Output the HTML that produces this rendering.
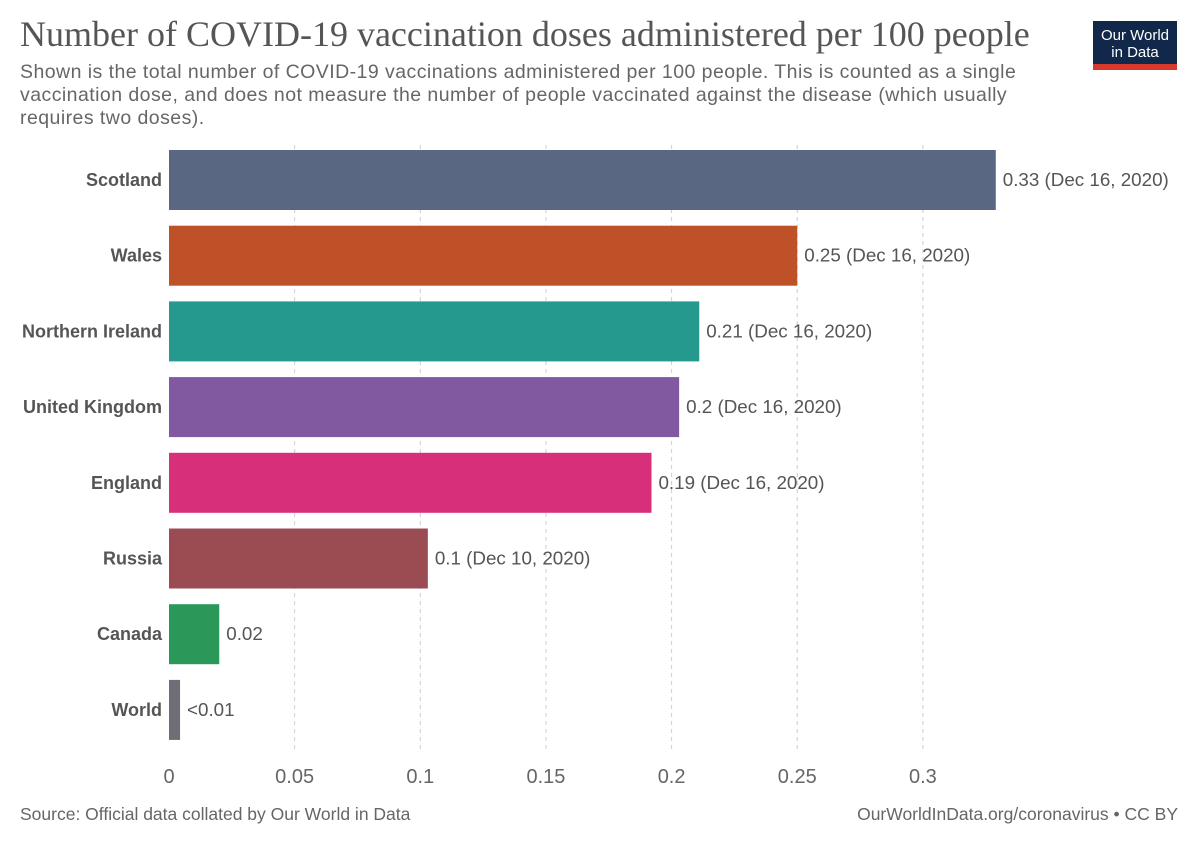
<!DOCTYPE html>
<html><head><meta charset="utf-8"><style>
body{margin:0;width:1200px;height:847px;background:#fff;font-family:"Liberation Sans",sans-serif;overflow:hidden;position:relative}
.t{position:absolute;white-space:nowrap}
</style></head><body>
<div class="t" style="left:20px;top:13px;font-family:'Liberation Serif',serif;font-size:36px;color:#555">Number of COVID-19 vaccination doses administered per 100 people</div>
<div class="t" style="left:20px;top:61px;font-size:19.5px;line-height:23px;color:#666;letter-spacing:0.45px">Shown is the total number of COVID-19 vaccinations administered per 100 people. This is counted as a single<br>vaccination dose, and does not measure the number of people vaccinated against the disease (which usually<br>requires two doses).</div>
<div style="position:absolute;left:1093px;top:21px;width:84px;height:49px;background:#12284b;color:#fff;font-size:15px;line-height:17px;text-align:center;box-sizing:border-box;padding-top:6px">Our World<br>in Data<div style="position:absolute;left:0;bottom:0;width:84px;height:6px;background:#d73a2c"></div></div>
<svg id="c" width="1200" height="847" style="position:absolute;left:0;top:0"></svg>
<div class="t" style="left:20px;top:804px;font-size:17.5px;color:#666">Source: Official data collated by Our World in Data</div>
<div class="t" style="right:22px;top:804px;font-size:17.5px;color:#666">OurWorldInData.org/coronavirus • CC BY</div>
<script>
const categories=["Scotland","Wales","Northern Ireland","United Kingdom","England","Russia","Canada","World"];
const values=[0.329,0.25,0.211,0.203,0.192,0.103,0.02,0.0044];
const valueLabels=["0.33 (Dec 16, 2020)","0.25 (Dec 16, 2020)","0.21 (Dec 16, 2020)","0.2 (Dec 16, 2020)","0.19 (Dec 16, 2020)","0.1 (Dec 10, 2020)","0.02","<0.01"];
const ticks=[0,0.05,0.1,0.15,0.2,0.25,0.3];
const tickLabels=["0","0.05","0.1","0.15","0.2","0.25","0.3"];
const colors=["#596782","#be5128","#26998f","#8159a1","#d82f7a","#9a4c52","#2a9859","#6d6e76"];
const svg=document.getElementById('c');const NS='http://www.w3.org/2000/svg';
const x=v=>169+v*2513, yTop=i=>150+i*75.7, bh=60;
function mk(t,a){const e=document.createElementNS(NS,t);for(const k in a)e.setAttribute(k,a[k]);svg.appendChild(e);return e;}
ticks.forEach((t,i)=>{
 if(i>0){const l=mk('line',{x1:x(t),x2:x(t),y1:145,y2:750,stroke:'#ccc','stroke-dasharray':'4,4'});
 
 }
 const tx=mk('text',{x:x(t),y:783,'text-anchor':'middle','font-size':20,fill:'#666'});tx.textContent=tickLabels[i];
 
 
});
categories.forEach((c,i)=>{
 const y=yTop(i);
 const r=mk('rect',{x:x(0),y:y,width:x(values[i])-x(0),height:bh,fill:colors[i]});
 
 
 const lb=mk('text',{x:162,y:y+bh/2+6,'text-anchor':'end','font-size':18,'font-weight':'bold',fill:'#555'});lb.textContent=c;
 
 
 const vl=mk('text',{x:x(values[i])+7,y:y+bh/2+6,'font-size':18.8,fill:'#555'});vl.textContent=valueLabels[i];
 
 
});
</script>
</body></html>
